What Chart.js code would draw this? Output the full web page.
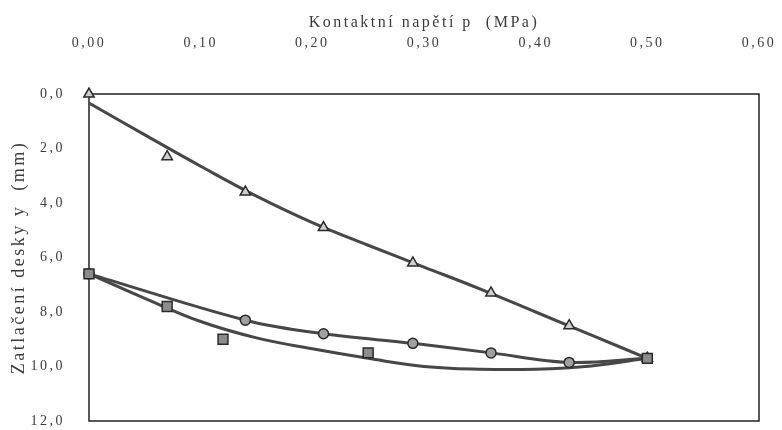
<!DOCTYPE html>
<html>
<head>
<meta charset="utf-8">
<script src="https://cdn.jsdelivr.net/npm/chart.js@4.4.1/dist/chart.umd.min.js"></script>
<style>
  html, body { margin: 0; padding: 0; background: #fff; }
</style>
</head>
<body>
<canvas id="chart" width="782" height="430"></canvas>
<script>
// measured points (p in MPa, y in mm)
const triP = [0, 0.07, 0.14, 0.21, 0.29, 0.36, 0.43, 0.50];
const triY = [0, 2.3, 3.6, 4.9, 6.2, 7.3, 8.5, 9.7];

const circP = [0, 0.14, 0.21, 0.29, 0.36, 0.43, 0.50];
const circY = [6.6, 8.3, 8.8, 9.15, 9.5, 9.85, 9.7];

const sqP = [0, 0.07, 0.12, 0.25, 0.50];
const sqY = [6.6, 7.8, 9.0, 9.5, 9.7];

// trend lines
const trendP = [0, 0.05, 0.10, 0.15, 0.20, 0.25, 0.30, 0.35, 0.40, 0.45, 0.50];
const triTrend = [0.33, 1.5, 2.65, 3.75, 4.72, 5.55, 6.35, 7.15, 8.0, 8.85, 9.7];
const sqTrend = [6.6, 7.5, 8.35, 8.95, 9.35, 9.7, 10.0, 10.1, 10.1, 9.98, 9.7];

const xTitle = 'Kontaktní napětí p  (MPa)';
const yTitle = 'Zatlačení desky y  (mm)';

const pts = (xs, ys) => xs.map((x, i) => ({ x: x, y: ys[i] }));

const lineCol = '#474747';
const edge = '#2a2a2a';
const textCol = '#3c3c3c';

const spacing = {
  id: 'spacing',
  beforeUpdate(c) { c.ctx.letterSpacing = '2.5px'; },
  beforeDraw(c) { c.ctx.letterSpacing = '2.5px'; }
};

const frame = {
  id: 'frame',
  beforeDatasetsDraw(c) {
    const a = c.chartArea, ctx = c.ctx;
    ctx.save();
    ctx.strokeStyle = '#222';
    ctx.lineWidth = 1.5;
    ctx.strokeRect(a.left, a.top, a.right - a.left, a.bottom - a.top);
    ctx.restore();
  }
};

new Chart(document.getElementById('chart'), {
  type: 'scatter',
  data: {
    datasets: [
      {
        data: pts(triP, triY),
        pointStyle: 'triangle',
        pointRadius: 6,
        backgroundColor: '#cfcfcf',
        borderColor: edge,
        borderWidth: 1.5,
        clip: false,
        order: 0
      },
      {
        data: pts(circP, circY),
        showLine: true,
        tension: 0.35,
        borderColor: lineCol,
        borderWidth: 3,
        pointStyle: 'circle',
        pointRadius: 5,
        pointBackgroundColor: '#a0a0a0',
        pointBorderColor: edge,
        pointBorderWidth: 1.5,
        clip: false,
        order: 1
      },
      {
        data: pts(sqP, sqY),
        pointStyle: 'rect',
        pointRadius: 7,
        backgroundColor: '#8c8c8c',
        borderColor: edge,
        borderWidth: 1.5,
        clip: false,
        order: -1
      },
      {
        data: pts(trendP, triTrend),
        showLine: true,
        tension: 0.4,
        borderColor: lineCol,
        borderWidth: 3,
        pointRadius: 0,
        order: 2
      },
      {
        data: pts(trendP, sqTrend),
        showLine: true,
        tension: 0.4,
        borderColor: lineCol,
        borderWidth: 3,
        pointRadius: 0,
        order: 2
      }
    ]
  },
  options: {
    responsive: false,
    animation: false,
    layout: { padding: { left: 0, top: 0, right: 23, bottom: 9 } },
    plugins: {
      legend: { display: false },
      tooltip: { enabled: false }
    },
    scales: {
      x: {
        type: 'linear',
        position: 'top',
        min: 0,
        max: 0.6,
        afterFit: s => {
          s.height = 94;
          s.paddingLeft = 0;
          s.paddingRight = 0;
        },
        ticks: {
          stepSize: 0.1,
          padding: 42,
          color: textCol,
          font: { family: 'Liberation Serif', size: 14 },
          callback: v => v.toFixed(2).replace('.', ',')
        },
        grid: { display: false, drawTicks: false },
        border: { display: false },
        title: {
          display: true,
          text: xTitle,
          color: textCol,
          font: { family: 'Liberation Serif', size: 16 },
          padding: { top: 13, bottom: 0 }
        }
      },
      y: {
        type: 'linear',
        reverse: true,
        min: 0,
        max: 12,
        afterFit: s => {
          s.width = 89;
          s.paddingTop = 0;
          s.paddingBottom = 0;
        },
        ticks: {
          stepSize: 2,
          padding: 24,
          color: textCol,
          font: { family: 'Liberation Serif', size: 14 },
          callback: v => v.toFixed(1).replace('.', ',')
        },
        grid: { display: false, drawTicks: false },
        border: { display: false },
        title: {
          display: true,
          text: yTitle,
          color: textCol,
          font: { family: 'Liberation Serif', size: 18 },
          padding: { top: 8, bottom: 0 }
        }
      }
    }
  },
  plugins: [spacing, frame]
});
</script>
</body>
</html>
